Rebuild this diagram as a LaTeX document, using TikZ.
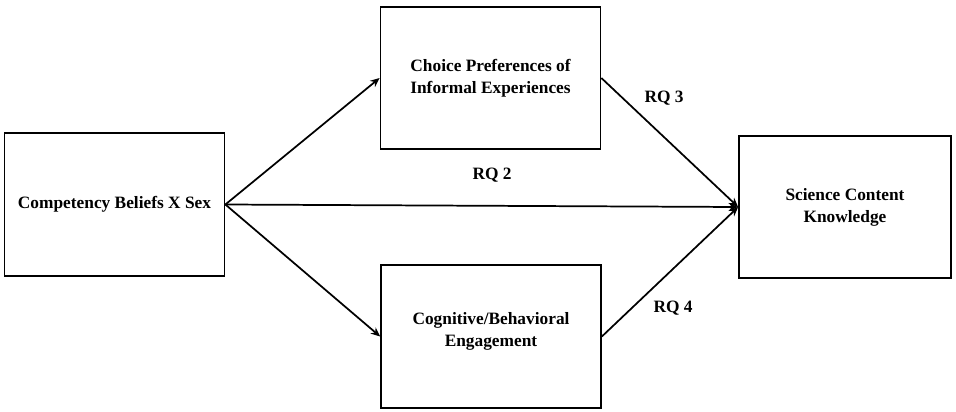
\documentclass[tikz,border=0pt]{standalone}
\usepackage{fontspec}
\setmainfont{Liberation Serif}
\usetikzlibrary{arrows.meta}

\tikzset{
  varbox/.style={draw, line width=1.3pt, align=center, font=\fontsize{13}{16.5}\selectfont\bfseries,
    minimum width=165pt, minimum height=107pt, inner sep=0pt},
  path/.style={line width=1.3pt, -{Stealth[length=7pt, width=6pt]}},
  rqlabel/.style={font=\fontsize{13}{16}\selectfont\bfseries}
}

\begin{document}
\begin{tikzpicture}[x=0.75pt, y=-0.75pt]

\useasboundingbox (0,0) rectangle (956,411);

\node[varbox] (comp) at (114.5,204.5) {Competency Beliefs X Sex};
\node[varbox] (choice) at (490.5,78) {Choice Preferences of\\Informal Experiences};
\node[varbox] (cog) at (491,336.5) {Cognitive/Behavioral\\Engagement\\[-6pt]};
\node[varbox, minimum width=159pt] (sci) at (845,207) {Science Content\\Knowledge};

\draw[path] (comp.east) -- (choice.west);
\draw[path] (comp.east) -- (cog.west);
\draw[path] (comp.east) -- (sci.west);
\draw[path] (choice.east) -- (sci.west);
\draw[path] (cog.east) -- (sci.west);

\node[rqlabel] (rq2) at (492,175) {RQ 2};
\node[rqlabel] (rq3) at (664,98) {RQ 3};
\node[rqlabel] (rq4) at (673,308) {RQ 4};

\end{tikzpicture}
\end{document}
